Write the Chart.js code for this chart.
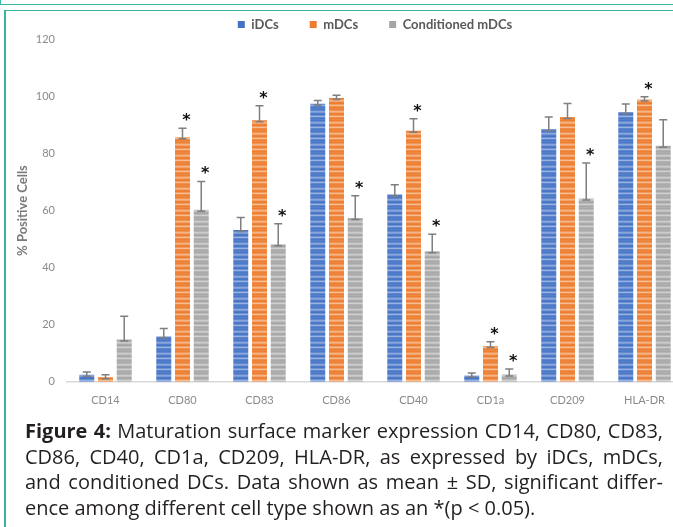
<!DOCTYPE html>
<html>
<head>
<meta charset="utf-8">
<script src="https://cdn.jsdelivr.net/npm/chart.js@4.4.1/dist/chart.umd.min.js"></script>
<style>
  html, body { margin: 0; padding: 0; background: #fff; overflow: hidden; width: 673px; height: 527px; }
  .prevBox { position: absolute; left: 0; top: 0; width: 700px; height: 4px; border-left: 1.5px solid #33b7a0; border-bottom: 1.5px solid #33b7a0; }
  .frame { position: absolute; left: 4px; top: 10px; width: 700px; height: 600px; border-left: 2px solid #33b7a0; border-top: 1.5px solid #33b7a0; }
  #chartBox { position: absolute; left: 0; top: -13px; width: 700px; height: 433px; }
  .caption { position: absolute; left: 25px; top: 418px; width: 638px; font-family: "Open Sans"; font-size: 20px; line-height: 25.5px; color: #231f20; }
  .caption div { white-space: nowrap; text-align: justify; text-align-last: justify; }
  .caption div.last { text-align-last: left; }
</style>
</head>
<body>
<div class="prevBox"></div>
<div class="frame"></div>
<div id="chartBox"><canvas id="markerChart"></canvas></div>
<div class="caption">
  <div><b>Figure 4:</b> Maturation surface marker expression CD14, CD80, CD83,</div>
  <div>CD86, CD40, CD1a, CD209, HLA-DR, as expressed by iDCs, mDCs,</div>
  <div>and conditioned DCs. Data shown as mean ± SD, significant differ-</div>
  <div class="last">ence among different cell type shown as an *(p &lt; 0.05).</div>
</div>
<script>
const categories = ["CD14", "CD80", "CD83", "CD86", "CD40", "CD1a", "CD209", "HLA-DR"];
const seriesNames = ["iDCs", "mDCs", "Conditioned mDCs"];

const iDCsMean = [2.5, 16, 53.2, 97.4, 65.6, 2.2, 88.5, 94.5];
const iDCsSD = [0.9, 2.7, 4.4, 1.2, 3.4, 0.9, 4.3, 2.8];
const iDCsSig = [0, 0, 0, 0, 0, 0, 0, 0];

const mDCsMean = [1.6, 85.7, 91.6, 99.4, 88, 12.5, 92.8, 98.9];
const mDCsSD = [0.9, 3.1, 5.1, 1.0, 4.2, 1.5, 4.7, 1.0];
const mDCsSig = [0, 1, 1, 0, 1, 1, 0, 1];

const condMean = [14.8, 60.3, 48.2, 57.4, 45.7, 2.6, 64.2, 82.7];
const condSD = [8.2, 9.9, 7.2, 7.8, 6.0, 1.9, 12.5, 9.1];
const condSig = [0, 1, 1, 1, 1, 1, 1, 0];

const yTicks = [0, 20, 40, 60, 80, 100, 120];

const solidColors = ["#4472c4", "#ed7d31", "#a5a5a5"];

// horizontal striped fill, like the Excel texture in the figure
function stripes(rows) {
  const c = document.createElement("canvas");
  c.width = 4;
  c.height = rows.length;
  const g = c.getContext("2d");
  rows.forEach((col, i) => {
    g.fillStyle = col;
    g.fillRect(0, i, 4, 1);
  });
  return g.createPattern(c, "repeat");
}

const blueFill = stripes(["#5580cb", "#4a77c6", "#6189cf", "#8aa7dd", "#7898d6", "#4f7bc8", "#4674c5", "#6d92d3", "#98b2e1", "#5d86ce", "#4a77c6"]);
const orangeFill = stripes(["#ef8840", "#ed7f34", "#f09552", "#f5b486", "#f3a46d", "#ee8239", "#ed7d31", "#f19b5c", "#f6bc92", "#f08f4a", "#ed7f34"]);
const grayFill = stripes(["#b0b0b0", "#a8a8a8", "#b6b6b6", "#cbcbcb", "#c1c1c1", "#ababab", "#a6a6a6", "#bababa", "#d0d0d0", "#b3b3b3", "#a9a9a9"]);

const errorBars = {
  id: "errorBars",
  afterDatasetsDraw(chart) {
    const ctx = chart.ctx;
    const yScale = chart.scales.y;
    chart.data.datasets.forEach((ds, di) => {
      const meta = chart.getDatasetMeta(di);
      meta.data.forEach((bar, i) => {
        const top = yScale.getPixelForValue(ds.data[i] + ds.sd[i]);
        const base = bar.y + 1.5;
        ctx.save();
        ctx.strokeStyle = "#7f7f7f";
        ctx.lineWidth = 1.5;
        ctx.beginPath();
        ctx.moveTo(bar.x, base);
        ctx.lineTo(bar.x, top);
        ctx.moveTo(bar.x - 4, top);
        ctx.lineTo(bar.x + 4, top);
        ctx.moveTo(bar.x - 4, base);
        ctx.lineTo(bar.x + 4, base);
        ctx.stroke();
        if (ds.sig[i]) {
          ctx.fillStyle = "#111";
          ctx.font = "bold 16px 'DejaVu Sans'";
          ctx.textAlign = "center";
          ctx.textBaseline = "alphabetic";
          ctx.fillText("*", bar.x + 4, top - 12 + 9);
        }
        ctx.restore();
      });
    });
  },
};

new Chart(document.getElementById("markerChart"), {
  type: "bar",
  data: {
    labels: categories,
    datasets: [
      { label: seriesNames[0], data: iDCsMean, sd: iDCsSD, sig: iDCsSig, backgroundColor: blueFill },
      { label: seriesNames[1], data: mDCsMean, sd: mDCsSD, sig: mDCsSig, backgroundColor: orangeFill },
      { label: seriesNames[2], data: condMean, sd: condSD, sig: condSig, backgroundColor: grayFill },
    ],
  },
  options: {
    responsive: true,
    maintainAspectRatio: false,
    animation: false,
    layout: { padding: { left: 12, right: 17, top: 0, bottom: 0 } },
    datasets: { bar: { categoryPercentage: 0.73, barPercentage: 0.8, borderWidth: 0 } },
    plugins: {
      tooltip: { enabled: false },
      legend: {
        position: "top",
        fullSize: false,
        maxHeight: 52.3,
        labels: {
          boxWidth: 7,
          boxHeight: 7,
          padding: 31,
          color: "#595959",
          font: { family: "Lato", size: 13, weight: "bold" },
          generateLabels(chart) {
            const items = Chart.defaults.plugins.legend.labels.generateLabels(chart);
            items.forEach((it, i) => {
              it.fillStyle = solidColors[i];
              it.strokeStyle = solidColors[i];
              it.lineWidth = 0;
            });
            return items;
          },
        },
      },
    },
    scales: {
      x: {
        grid: { display: false, drawTicks: false },
        border: { color: "#d9d9d9", width: 1.5 },
        ticks: { color: "#8a8a8a", padding: 12.5, font: { family: "Lato", size: 11 } },
      },
      y: {
        min: yTicks[0],
        max: yTicks[yTicks.length - 1],
        grid: { display: false, drawTicks: false },
        border: { display: false },
        ticks: { stepSize: yTicks[1] - yTicks[0], padding: 12, color: "#8a8a8a", font: { family: "Lato", size: 11 } },
        title: {
          display: true,
          text: "% Positive Cells",
          color: "#7a7a7a",
          font: { family: "Lato", size: 13, weight: "bold" },
          padding: { top: 3, bottom: 3 },
        },
        afterFit(scale) {
          scale.width = 55;
        },
      },
    },
  },
  plugins: [errorBars],
});
</script>
</body>
</html>
